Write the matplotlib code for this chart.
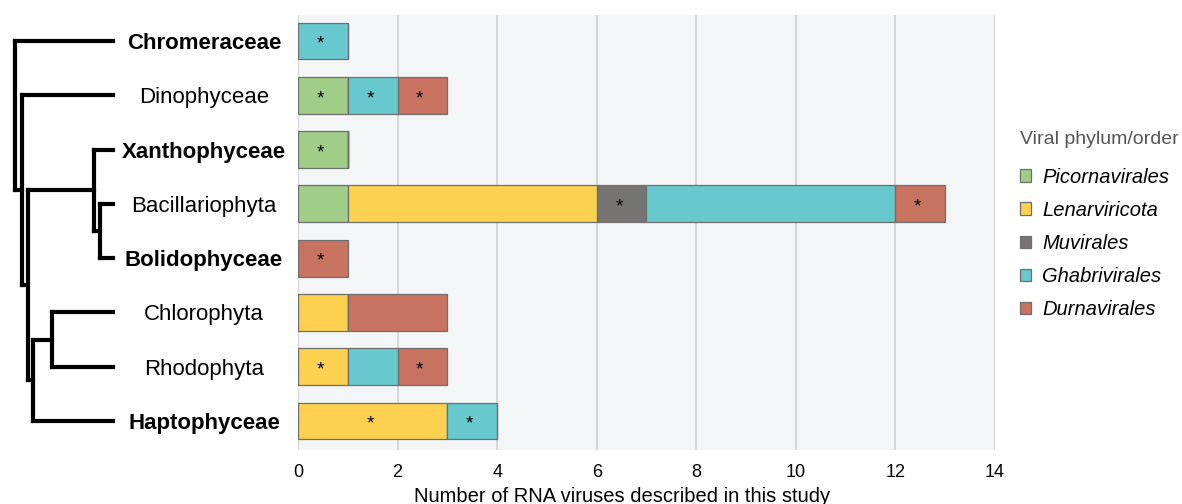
import matplotlib.pyplot as plt
from matplotlib.patches import Patch
import numpy as np

plt.rcParams['font.family'] = ['Liberation Sans', 'DejaVu Sans']

hosts = ["Chromeraceae", "Dinophyceae", "Xanthophyceae", "Bacillariophyta",
         "Bolidophyceae", "Chlorophyta", "Rhodophyta", "Haptophyceae"]
bold_hosts = ["Chromeraceae", "Xanthophyceae", "Bolidophyceae", "Haptophyceae"]

taxa = ["Picornavirales", "Lenarviricota", "Muvirales", "Ghabrivirales", "Durnavirales"]
colors = ["#a0cd88", "#fcd150", "#777372", "#67c8ce", "#c8735f"]

counts = {
    "Picornavirales": [0, 1, 1, 1, 0, 0, 0, 0],
    "Lenarviricota":  [0, 0, 0, 5, 0, 1, 1, 3],
    "Muvirales":      [0, 0, 0, 1, 0, 0, 0, 0],
    "Ghabrivirales":  [1, 1, 0, 5, 0, 0, 1, 1],
    "Durnavirales":   [0, 1, 0, 1, 1, 2, 1, 0],
}
# segments marked with an asterisk
starred = {
    "Picornavirales": [0, 1, 1, 0, 0, 0, 0, 0],
    "Lenarviricota":  [0, 0, 0, 0, 0, 0, 1, 1],
    "Muvirales":      [0, 0, 0, 1, 0, 0, 0, 0],
    "Ghabrivirales":  [1, 1, 0, 0, 0, 0, 0, 1],
    "Durnavirales":   [0, 1, 0, 1, 1, 0, 1, 0],
}

# tree: (node depth, children); ints are leaf rows
leaf_depth = 113
tree = (15, [0, (22, [1, (28, [(94, [2, (100, [3, 4])]),
                               (33, [(52, [5, 6]), 7])])])])

fig = plt.figure(figsize=(11.82, 5.04), dpi=100)
ax = fig.add_axes([0.2521, 0.1071, 0.5897, 0.8631])
ax.set_facecolor("#f4f5f7")

y = np.arange(len(hosts))
left = np.zeros(len(hosts))
for taxon, col in zip(taxa, colors):
    vals = np.array(counts[taxon])
    ax.barh(y, vals, left=left, height=0.68, color=col,
            edgecolor="#6e6e6e", linewidth=0.9, zorder=3)
    for i, v in enumerate(vals):
        if v > 0 and starred[taxon][i]:
            ax.text(left[i] + v / 2 - 0.05, y[i] + 0.06, "*", ha="center",
                    va="center", fontsize=14, zorder=4)
    left += vals

ax.set_xlim(0, 14)
ax.set_ylim(7.534, -0.479)
ax.set_xticks(np.arange(0, 15, 2))
ax.grid(axis="x", color="#cdcdcd", linewidth=1.1, zorder=0)
ax.set_axisbelow(True)
for s in ax.spines.values():
    s.set_visible(False)
ax.tick_params(axis="x", length=0, pad=10, labelsize=13)
ax.tick_params(axis="y", length=0, pad=67.7, labelsize=16)
ax.set_yticks(y)
ax.set_yticklabels(hosts)
for lab in ax.get_yticklabels():
    lab.set_horizontalalignment("center")
    if lab.get_text() in bold_hosts:
        lab.set_fontweight("bold")
ax.set_xlabel("Number of RNA viruses described in this study", fontsize=14.5)
ax.xaxis.set_label_coords(0.465, -0.085)

# dendrogram
tax = fig.add_axes([0.0, 0.1071, 120 / 1182, 0.8631], sharey=ax)
tax.set_xlim(0, 120)
tax.axis("off")

def draw(node, parent_x):
    kw = dict(color="black", lw=3, solid_capstyle="projecting")
    if isinstance(node, int):
        tax.plot([parent_x, leaf_depth], [node, node], **kw)
        return node
    depth, kids = node
    ys = [draw(k, depth) for k in kids]
    tax.plot([depth, depth], [min(ys), max(ys)], **kw)
    ny = (min(ys) + max(ys)) / 2
    if parent_x is not None:
        tax.plot([parent_x, depth], [ny, ny], **kw)
    return ny

draw(tree, None)
ax.set_ylim(7.534, -0.479)

handles = [Patch(facecolor=c, edgecolor="#6e6e6e", linewidth=0.9) for c in colors]
leg = fig.legend(handles, taxa, loc="upper left",
                 bbox_to_anchor=(1002 / 1182, 1 - 113 / 504),
                 frameon=False, fontsize=14.5, title="Viral phylum/order",
                 title_fontsize=14, handlelength=0.55, handleheight=0.55,
                 handletextpad=0.55, labelspacing=0.7, alignment="left")
leg.get_title().set_color("#555555")
leg._legend_box.sep = 14
for t in leg.get_texts():
    t.set_fontstyle("italic")

fig.savefig("out.png", dpi=100)
